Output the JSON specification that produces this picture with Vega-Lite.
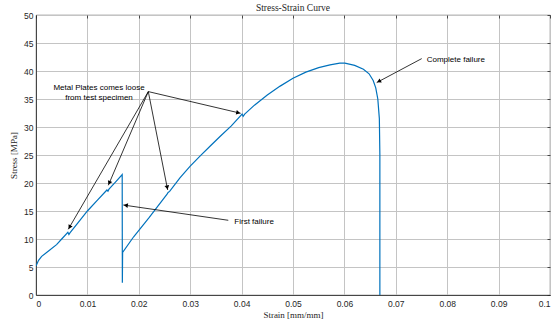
{
  "$schema": "https://vega.github.io/schema/vega-lite/v6.json",
  "width": 514,
  "height": 280,
  "autosize": {"type": "none"},
  "padding": {"left": 36, "top": 15, "right": 1, "bottom": 32},
  "background": "white",
  "title": {"text": "Stress-Strain Curve", "font": "Liberation Serif", "fontSize": 9.5, "fontWeight": "normal", "color": "#262626", "offset": -1, "anchor": "middle"},
  "config": {
    "view": {"stroke": "#262626", "strokeWidth": 0.8},
    "axis": {
      "labelFont": "Liberation Sans", "labelFontSize": 8.5, "labelColor": "#262626",
      "titleFont": "Liberation Serif", "titleFontSize": 9, "titleFontWeight": "normal", "titleColor": "#262626",
      "domainColor": "#262626", "domainWidth": 0.8, "tickColor": "#262626", "tickWidth": 0.8,
      "gridColor": "#c4c4c4", "gridWidth": 1, "gridOpacity": 1
    }
  },
  "datasets": {
    "curve": [
      {"i": 0, "strain": 0.0, "stress": 5.2},
      {"i": 1, "strain": 0.0005, "stress": 6.2},
      {"i": 2, "strain": 0.0011, "stress": 6.9},
      {"i": 3, "strain": 0.0025, "stress": 7.9},
      {"i": 4, "strain": 0.004, "stress": 9.0},
      {"i": 5, "strain": 0.005, "stress": 10.0},
      {"i": 6, "strain": 0.0062, "stress": 11.2},
      {"i": 7, "strain": 0.0064, "stress": 10.8},
      {"i": 8, "strain": 0.0066, "stress": 11.1},
      {"i": 9, "strain": 0.008, "stress": 12.7},
      {"i": 10, "strain": 0.010, "stress": 15.0},
      {"i": 11, "strain": 0.012, "stress": 17.0},
      {"i": 12, "strain": 0.0138, "stress": 18.75},
      {"i": 13, "strain": 0.0140, "stress": 18.55},
      {"i": 14, "strain": 0.0142, "stress": 18.9},
      {"i": 15, "strain": 0.0155, "stress": 20.2},
      {"i": 16, "strain": 0.01677, "stress": 21.5},
      {"i": 17, "strain": 0.0168, "stress": 2.2},
      {"i": 18, "strain": 0.01685, "stress": 7.6},
      {"i": 19, "strain": 0.019, "stress": 10.4},
      {"i": 20, "strain": 0.022, "stress": 13.8},
      {"i": 21, "strain": 0.0255, "stress": 18.0},
      {"i": 22, "strain": 0.0257, "stress": 18.3},
      {"i": 23, "strain": 0.026, "stress": 18.5},
      {"i": 24, "strain": 0.028, "stress": 20.9},
      {"i": 25, "strain": 0.030, "stress": 23.0},
      {"i": 26, "strain": 0.032, "stress": 24.9},
      {"i": 27, "strain": 0.034, "stress": 26.7},
      {"i": 28, "strain": 0.0358, "stress": 28.3},
      {"i": 29, "strain": 0.038, "stress": 30.2},
      {"i": 30, "strain": 0.0401, "stress": 32.3},
      {"i": 31, "strain": 0.0403, "stress": 31.9},
      {"i": 32, "strain": 0.0406, "stress": 32.3},
      {"i": 33, "strain": 0.0425, "stress": 33.9},
      {"i": 34, "strain": 0.045, "stress": 35.7},
      {"i": 35, "strain": 0.0475, "stress": 37.3},
      {"i": 36, "strain": 0.050, "stress": 38.7},
      {"i": 37, "strain": 0.0525, "stress": 39.8},
      {"i": 38, "strain": 0.055, "stress": 40.6},
      {"i": 39, "strain": 0.0572, "stress": 41.1},
      {"i": 40, "strain": 0.0591, "stress": 41.4},
      {"i": 41, "strain": 0.0601, "stress": 41.4},
      {"i": 42, "strain": 0.062, "stress": 41.0},
      {"i": 43, "strain": 0.0637, "stress": 40.3},
      {"i": 44, "strain": 0.0648, "stress": 39.5},
      {"i": 45, "strain": 0.0656, "stress": 38.3},
      {"i": 46, "strain": 0.0661, "stress": 37.0},
      {"i": 47, "strain": 0.0665, "stress": 35.0},
      {"i": 48, "strain": 0.0668, "stress": 31.5},
      {"i": 49, "strain": 0.0669, "stress": 25.0},
      {"i": 50, "strain": 0.0669, "stress": 0.0}
    ],
    "arrows": [
      {"x0": 0.02185, "y0": 36.32, "x1": 0.00628, "y1": 11.73, "hx": 0.00653, "hy": 12.12, "ang": 210.2},
      {"x0": 0.02185, "y0": 36.32, "x1": 0.01407, "y1": 19.59, "hx": 0.01426, "hy": 20.0, "ang": 203.1},
      {"x0": 0.02185, "y0": 36.32, "x1": 0.02562, "y1": 18.75, "hx": 0.02553, "hy": 19.19, "ang": 168.8},
      {"x0": 0.02185, "y0": 36.32, "x1": 0.03982, "y1": 32.45, "hx": 0.03935, "hy": 32.55, "ang": 103.2},
      {"x0": 0.03741, "y0": 13.34, "x1": 0.01698, "y1": 16.07, "hx": 0.01747, "hy": 16.01, "ang": 278.3},
      {"x0": 0.07504, "y0": 42.21, "x1": 0.06628, "y1": 37.93, "hx": 0.06671, "hy": 38.14, "ang": 241.9}
    ],
    "labels": [
      {"tx": 0.01226, "ty": 36.9, "label": "Metal Plates comes loose", "al": "center"},
      {"tx": 0.01226, "ty": 35.2, "label": "from test specimen", "al": "center"},
      {"tx": 0.03858, "ty": 13.04, "label": "First failure", "al": "left"},
      {"tx": 0.07601, "ty": 41.96, "label": "Complete failure", "al": "left"}
    ]
  },
  "layer": [
    {
      "data": {"name": "curve"},
      "mark": {"type": "line", "color": "#0072BD", "strokeWidth": 1.2, "clip": true},
      "encoding": {
        "x": {"field": "strain", "type": "quantitative", "scale": {"domain": [0, 0.1], "nice": false},
          "axis": {"orient": "bottom", "grid": true, "ticks": false, "values": [0, 0.01, 0.02, 0.03, 0.04, 0.05, 0.06, 0.07, 0.08, 0.09, 0.1], "format": "~g", "labelPadding": 4, "title": "Strain [mm/mm]", "titlePadding": 3}},
        "y": {"field": "stress", "type": "quantitative", "scale": {"domain": [0, 50], "nice": false},
          "axis": {"orient": "left", "grid": true, "ticks": false, "values": [0, 5, 10, 15, 20, 25, 30, 35, 40, 45, 50], "labelPadding": 3, "title": "Stress [MPa]", "titlePadding": 5}},
        "order": {"field": "i", "type": "quantitative"}
      }
    },
    {
      "data": {"name": "arrows"},
      "mark": {"type": "rule", "color": "black", "strokeWidth": 0.8},
      "encoding": {
        "x": {"field": "x0", "type": "quantitative", "axis": {"orient": "top", "tickSize": -3, "values": [0, 0.01, 0.02, 0.03, 0.04, 0.05, 0.06, 0.07, 0.08, 0.09, 0.1], "labels": false, "title": null, "grid": false, "domain": false}},
        "y": {"field": "y0", "type": "quantitative", "axis": {"orient": "right", "tickSize": -3, "values": [0, 5, 10, 15, 20, 25, 30, 35, 40, 45, 50], "labels": false, "title": null, "grid": false, "domain": false}},
        "x2": {"field": "x1"},
        "y2": {"field": "y1"}
      }
    },
    {
      "data": {"name": "arrows"},
      "mark": {"type": "point", "shape": "triangle-up", "filled": true, "color": "black", "size": 22, "opacity": 1},
      "encoding": {
        "x": {"field": "hx", "type": "quantitative", "axis": null},
        "y": {"field": "hy", "type": "quantitative", "axis": null},
        "angle": {"field": "ang", "type": "quantitative", "scale": null}
      }
    },
    {
      "data": {"name": "labels"},
      "transform": [{"filter": "datum.al === 'center'"}],
      "mark": {"type": "text", "font": "Liberation Sans", "fontSize": 8, "color": "black", "baseline": "middle", "align": "center"},
      "encoding": {
        "x": {"field": "tx", "type": "quantitative", "axis": null},
        "y": {"field": "ty", "type": "quantitative", "axis": null},
        "text": {"field": "label"}
      }
    },
    {
      "data": {"name": "labels"},
      "transform": [{"filter": "datum.al === 'left'"}],
      "mark": {"type": "text", "font": "Liberation Sans", "fontSize": 8, "color": "black", "baseline": "middle", "align": "left"},
      "encoding": {
        "x": {"field": "tx", "type": "quantitative", "axis": null},
        "y": {"field": "ty", "type": "quantitative", "axis": null},
        "text": {"field": "label"}
      }
    }
  ],
  "resolve": {"axis": {"x": "independent", "y": "independent"}}
}
